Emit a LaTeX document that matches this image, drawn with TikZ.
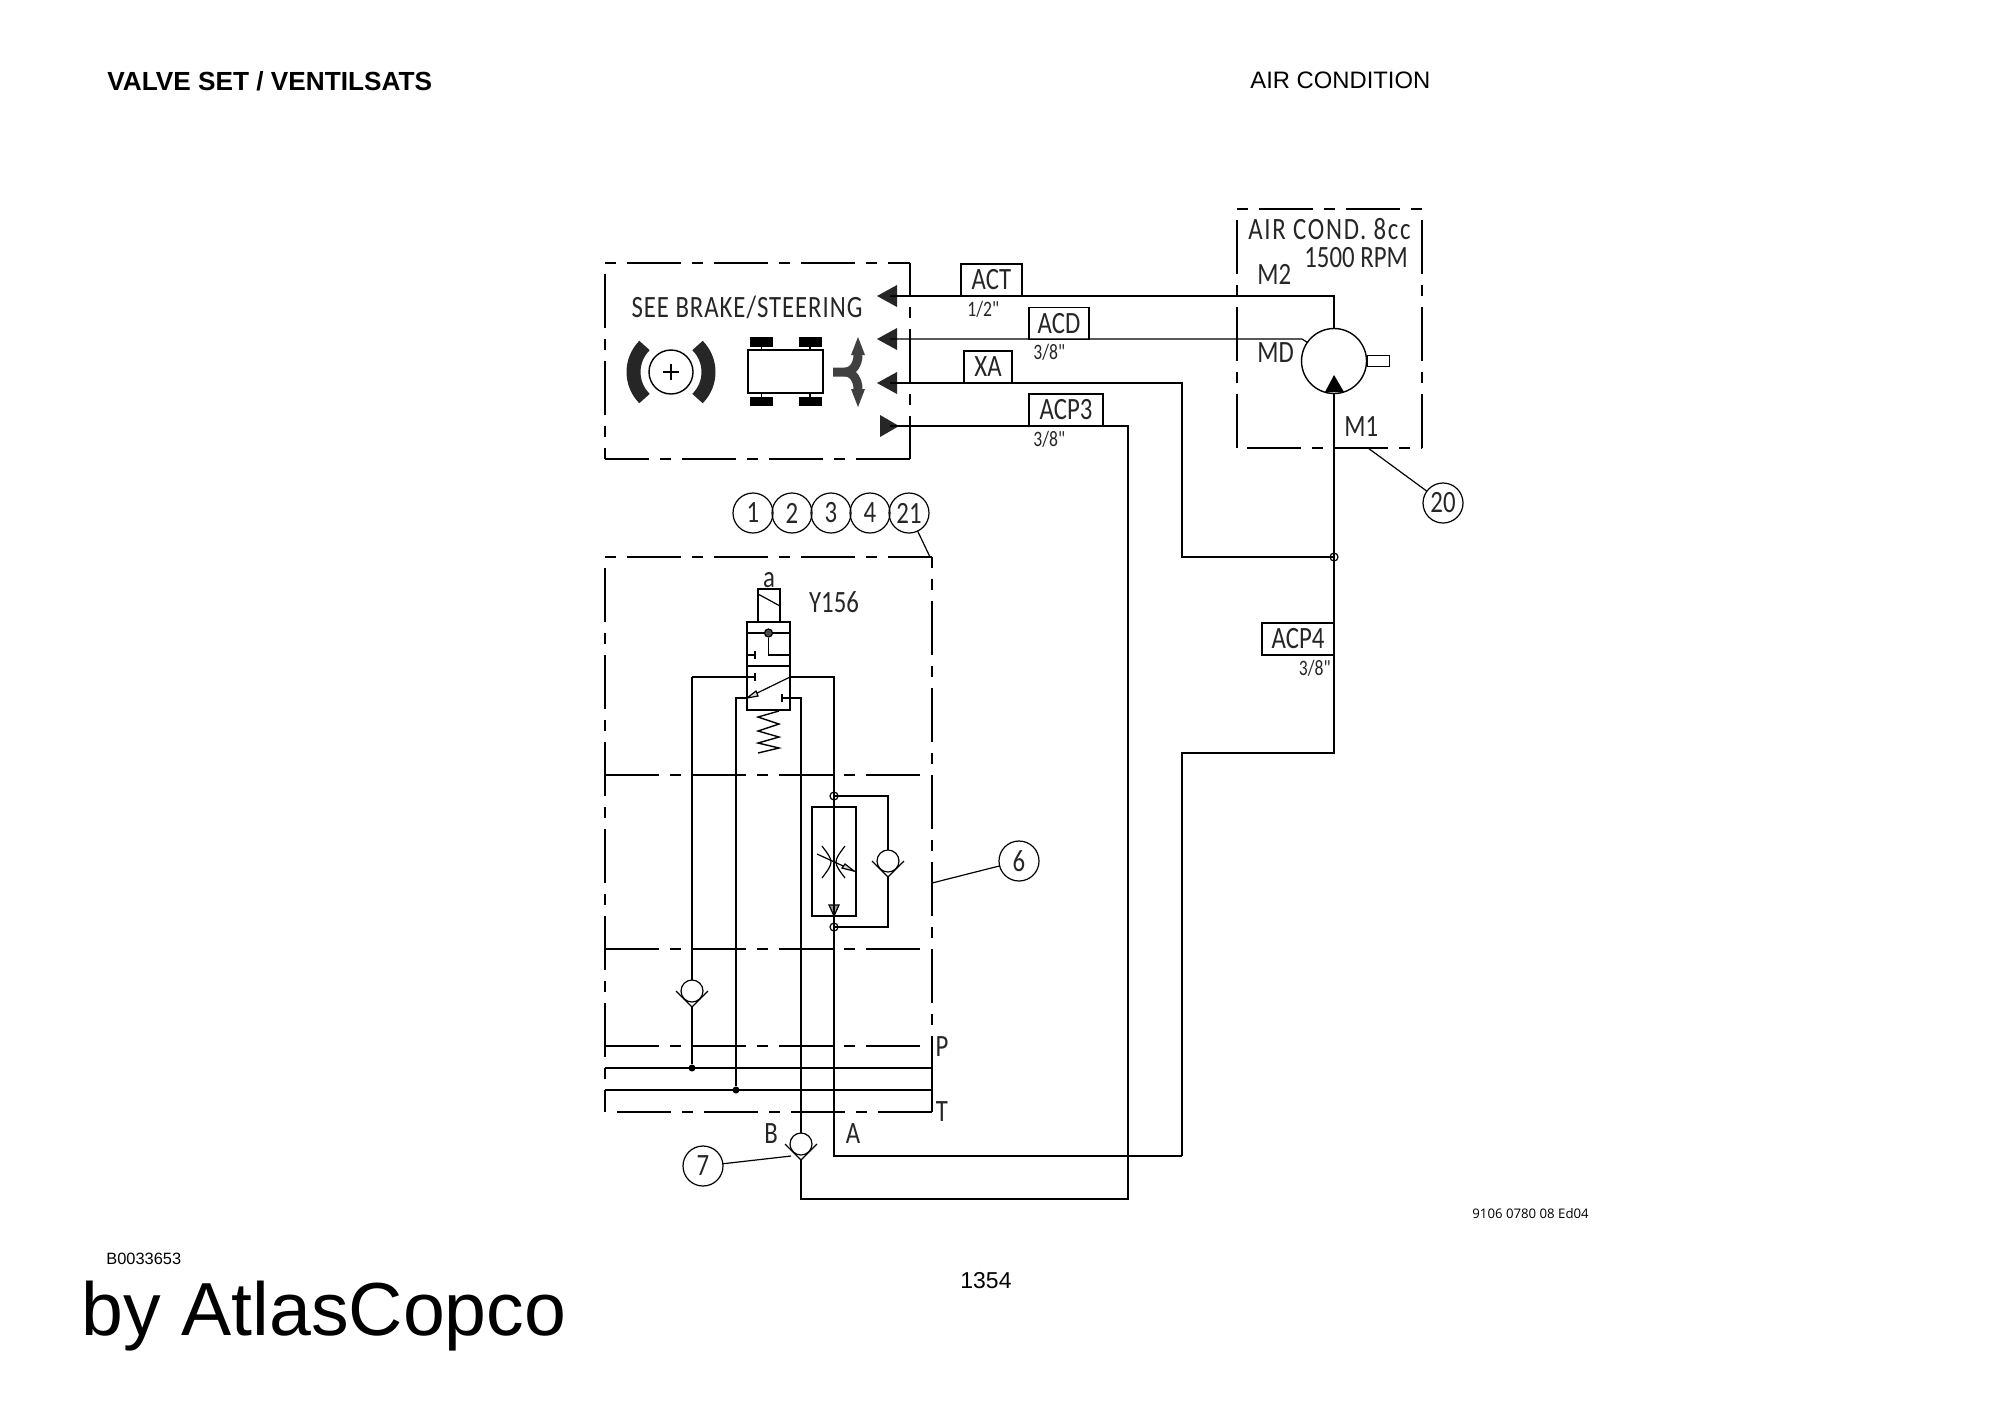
\documentclass[tikz,border=0pt]{standalone}
\usepackage{fontspec}
\setmainfont{Liberation Sans}
\newfontfamily\cadfont[FakeStretch=0.8]{Carlito}
\newfontfamily\docfont{Open Sans}
\usetikzlibrary{calc,positioning}

\tikzset{
	hidline/.style={line width=.9pt,dash pattern=on 27pt off 5.5pt on 5.5pt off 5.5pt},
	pipe/.style={line width=.6pt},
	cadtext/.style={inner sep=0,text=black!85,font=\cadfont\fontsize{15.5}{16}\selectfont},
	cadsmall/.style={inner sep=0,text=black!85,font=\cadfont\fontsize{11}{12}\selectfont},
	tag/.style={draw,line width=.6pt,cadtext,minimum height=16pt},
	callout/.style={draw,circle,line width=.6pt,cadtext,minimum size=20pt,outer sep=0},
	junction/.style={draw,circle,line width=.6pt,inner sep=0,minimum size=4pt},
	dot/.style={fill,circle,inner sep=0,minimum size=3.5pt},
	checkvalve/.pic={
		\draw[pipe] (0,0) circle[radius=5.5pt];
		\draw[pipe] (-16,0) -- (0,16) -- (16,0);
		\coordinate (-top) at (0,-11);
		\coordinate (-tip) at (0,16);
	},
	stopmark/.pic={\draw[pipe] (0,-4) -- (0,4);},
	portleft/.pic={\fill[black!85] (-13,0) -- (7,-11) -- (7,11) -- cycle;},
	portright/.pic={\fill[black!85] (-10,-11) -- (9,0) -- (-10,11) -- cycle;},
}

\begin{document}
\begin{tikzpicture}[x=.5pt,y=-.5pt]
	\useasboundingbox (0,0) rectangle (2000,1415);

	% page texts
	\node[anchor=base west,inner sep=0,font=\bfseries\fontsize{13.1}{14}\selectfont] (title) at (107,90) {VALVE SET / VENTILSATS};
	\node[anchor=base west,inner sep=0,font=\fontsize{11.9}{12}\selectfont] (system) at (1250,88) {AIR CONDITION};
	\node[anchor=base west,inner sep=0,font=\fontsize{8.2}{9}\selectfont] (drawno) at (106,1264) {B0033653};
	\node[anchor=base west,inner sep=0,font=\fontsize{37.6}{38}\selectfont] (brand) at (81,1335) {by AtlasCopco};
	\node[anchor=base west,inner sep=0,font=\fontsize{11.5}{12}\selectfont] (pageno) at (960,1288) {1354};
	\node[anchor=base west,inner sep=0,font=\docfont\fontsize{6.6}{8}\selectfont] (docno) at (1472,1218) {9106 0780 08 Ed04};

	% brake/steering box
	\draw[hidline,dash phase=32.5pt] (605,263) -- (910,263);
	\draw[hidline,dash phase=10.5pt] (910,263) -- (910,459);
	\draw[hidline] (910,459) -- (605,459);
	\draw[hidline] (605,274) -- (605,459);
	\node[cadtext,font=\cadfont\fontsize{15.5}{16}\selectfont\addfontfeature{LetterSpace=3}] (seebrake) at (747,307) {SEE BRAKE/STEERING};

	\node[draw,circle,line width=.7pt,inner sep=0,minimum size=22pt] (brake) at (671,372) {};
	\draw[line width=.6pt] (663,372) -- (679,372) (671,364) -- (671,380);
	\draw[line width=7pt,black!85] (644.5,345.5) arc[start angle=135,end angle=225,radius=18.75pt];
	\draw[line width=7pt,black!85] (697.5,345.5) arc[start angle=45,end angle=-45,radius=18.75pt];

	\node[draw,line width=.8pt,inner sep=0,minimum width=37.5pt,minimum height=21.5pt] (car) at (785.5,371.5) {};
	\foreach \wx in {761.5,810}{
		\fill (\wx-11.5,337) rectangle (\wx+11.5,347);
		\fill (\wx-11.5,397) rectangle (\wx+11.5,406);
		\draw[pipe] (\wx,347) -- (\wx,350) (\wx,393) -- (\wx,397);
	}
	\draw[line width=4.5pt,black!75] (833,372) -- (845,372) to[out=0,in=-90] (858,355);
	\draw[line width=4.5pt,black!75] (845,372) to[out=0,in=90] (858,389);
	\fill[black!75] (851,355) -- (858,337) -- (865,355) -- cycle;
	\fill[black!75] (851,389) -- (858,407) -- (865,389) -- cycle;

	% ports and pipes
	\pic at (890,296) {portleft};
	\pic at (890,339) {portleft};
	\pic at (890,383) {portleft};
	\pic at (890,426) {portright};
	\coordinate (portACT) at (890,296);
	\coordinate (portACD) at (890,339);
	\coordinate (portXA) at (890,383);
	\coordinate (portACP) at (890,426);

	% motor box
	\draw[hidline,dash phase=32.5pt] (1237,209) -- (1422,209);
	\draw[hidline] (1237,220) -- (1237,448);
	\draw[hidline] (1422,220) -- (1422,448);
	\draw[hidline] (1247,448) -- (1422,448);
	\node[cadtext,anchor=west,font=\cadfont\fontsize{15.5}{16}\selectfont\addfontfeature{LetterSpace=5.5}] (aircond) at (1248,229) {AIR COND. 8cc};
	\node[cadtext,anchor=west] (rpm) at (1304,258) {1500 RPM};
	\node[cadtext,anchor=west] (M2) at (1257,274) {M2};
	\node[cadtext,anchor=west] (MD) at (1257,353) {MD};
	\node[cadtext,anchor=west] (M1) at (1344,427) {M1};

	\node[draw,circle,line width=.7pt,inner sep=0,minimum size=32.5pt,outer sep=0] (motor) at (1334,361) {};
	\node[draw,line width=.6pt,inner sep=0,minimum width=11pt,minimum height=5.5pt,right=0pt of motor] (shaft) {};
	\fill (1334,375) -- (1325,392) -- (1344,392) -- cycle;

	% line tags
	\node[tag,minimum width=30.5pt] (ACT) at (991.5,280) {ACT};
	\node[tag,minimum width=30pt] (ACD) at (1059,323.5) {ACD};
	\node[tag,minimum width=24pt] (XA) at (988,367) {XA};
	\node[tag,minimum width=37pt] (ACP3) at (1066,410) {ACP3};
	\node[tag,minimum width=36pt] (ACP4) at (1298,639) {ACP4};
	\node[cadsmall,anchor=west] (size1) at (967,309) {1/2"};
	\node[cadsmall,anchor=west] (size2) at (1033,352) {3/8"};
	\node[cadsmall,anchor=west] (size3) at (1033,439) {3/8"};
	\node[cadsmall,anchor=east] (size4) at (1331,668) {3/8"};

	\coordinate (bendACD) at (1302,339);
	\coordinate (bendTop) at (1182,753);
	\coordinate (bendLow) at (1182,1156);
	\coordinate (bendOut) at (1128,1199);
	\node[junction] (tee) at (1334,557) {};

	\draw[pipe] (portACT) -| (motor.north);
	\draw[pipe] (portACD) -- (bendACD) -- (motor.145);
	\draw[pipe] (portXA) -| (tee.center -| bendTop) -- (tee.center);
	\draw[pipe] (motor.south) |- (bendTop) -- (bendLow);

	% valve block
	\draw[hidline,dash phase=32.5pt] (605,557) -- (932,557);
	\draw[hidline,dash phase=21.75pt] (932,557) -- (932,1090);
	\draw[line width=.9pt] (932,1036) -- (932,1112);
	\draw[hidline] (605,568) -- (605,1112);
	\draw[hidline] (617,1112) -- (932,1112);
	\foreach \ly in {775,949,1046}
		\draw[hidline] (605,\ly) -- (921,\ly);
	\draw[pipe] (605,1068) -- (932,1068);
	\draw[pipe] (605,1090) -- (932,1090);
	\node[cadtext] (P) at (942,1047) {P};
	\node[cadtext] (T) at (942,1112) {T};
	\node[cadtext] (B) at (771,1134) {B};
	\node[cadtext] (A) at (853,1134) {A};

	% solenoid valve
	\node[draw,line width=.7pt,inner sep=0,minimum width=11pt,minimum height=16.5pt] (coil) at (769,605.5) {};
	\draw[pipe] (758,594) -- (780,606);
	\node[cadtext] (a) at (769,580) {a};
	\node[cadtext] (Y156) at (834,602) {Y156};
	\node[draw,line width=.7pt,inner sep=0,minimum width=21.5pt,minimum height=44pt] (spool) at (768.5,666) {};
	\draw[pipe] (747,633) -- (790,633) (747,666) -- (790,666);
	\node[junction,fill=black!70] (pilot) at (768.5,633) {};
	\draw[pipe] (pilot) |- (790,655);
	\draw[pipe] (747,655) -- (755,655);
	\pic at (755,655) {stopmark};
	\pic at (755,677) {stopmark};
	\pic at (782,698) {stopmark};
	\draw[pipe] (692,677) -- (755,677);
	\draw[pipe] (790,677) -- (747,698);
	\filldraw[pipe,fill=black!15] (747,698) -- (756,691) -- (758,696) -- cycle;
	\draw[line width=.7pt] (779,711) -- (758,717) -- (779,724) -- (758,731) -- (779,737) -- (758,743) -- (779,748) -- (758,753);

	% flow valve
	\node[junction] (flowIn) at (834,796) {};
	\node[junction] (flowOut) at (834,927) {};
	\node[draw,line width=.6pt,inner sep=0,minimum width=22pt,minimum height=54.5pt] (flow) at (834,861.5) {};
	\draw[pipe] (822,846) .. controls (834,862) .. (822,878);
	\draw[pipe] (845,846) .. controls (833,862) .. (845,878);
	\draw[pipe] (817,854) -- (854,871);
	\filldraw[pipe,fill=black!15] (854,871) -- (845,864) -- (842,868) -- cycle;
	\filldraw[pipe,fill=black!40] (829,905) -- (839,905) -- (834,916) -- cycle;
	\pic (cvFlow) at (888,861) {checkvalve};
	\draw[pipe] (flowIn.center) -| (cvFlow-top);
	\draw[pipe] (flowOut.center) -| (cvFlow-tip);

	% pressure check valve, rails, outlet
	\pic (cvP) at (692,991) {checkvalve};
	\pic (cvB) at (801,1144) {checkvalve};
	\node[dot] (dotP) at (692,1068) {};
	\node[dot] (dotT) at (736,1090) {};
	\draw[pipe] (692,677) -- (cvP-top);
	\draw[pipe] (cvP-tip) -- (dotP);
	\draw[pipe] (747,698) -- (736,698) -- (dotT);
	\draw[pipe] (782,698) -- (801,698) -- (cvB-top);
	\draw[pipe] (cvB-tip) |- (bendOut) -- (bendOut |- portACP) -- (portACP);
	\draw[pipe] (790,677) -- (834,677) |- (bendLow);

	% callouts
	\node[callout] (c1) at (753,513) {1};
	\node[callout,right =-.5pt of c1] (c2) {2};
	\node[callout,right =-.5pt of c2] (c3) {3};
	\node[callout,right =-.5pt of c3] (c4) {4};
	\node[callout,right =-.5pt of c4] (c21) {21};
	\node[callout] (c6) at (1019,861) {6};
	\node[callout] (c7) at (703,1166) {7};
	\node[callout] (c20) at (1443,503) {20};
	\coordinate (hook21) at (930,557);
	\coordinate (hook6) at (932,883);
	\coordinate (hook7) at (791,1156);
	\coordinate (hook20) at (1368,448);
	\draw[pipe] (c21) -- (hook21);
	\draw[pipe] (c6) -- (hook6);
	\draw[pipe] (c7) -- (hook7);
	\draw[pipe] (c20) -- (hook20);
\end{tikzpicture}
\end{document}
